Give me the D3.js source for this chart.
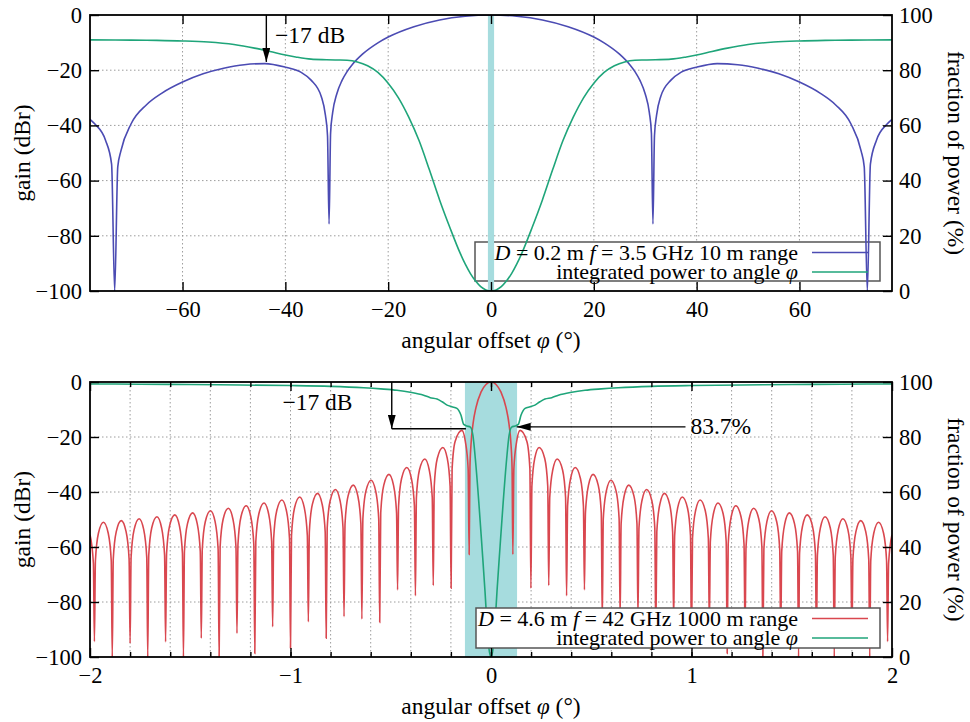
<!DOCTYPE html>
<html>
<head>
<meta charset="utf-8">
<title></title>
<style>
body { margin: 0; background: #fff; }
text { font-family: "Liberation Serif", "Times New Roman", serif; fill: #000; }
.grid line { stroke: #9c9c9c; stroke-width: 1px; stroke-dasharray: 1.5,2.5; }
.frame { fill: none; stroke: #000; stroke-width: 1.8px; }
.axis .domain { display: none; }
.axis line { stroke: #000; stroke-width: 1.4px; }
.axis text { font-size: 22.5px; font-family: "Liberation Serif", "Times New Roman", serif; }
path.curve { fill: none; stroke-width: 1.6px; }
.note { stroke: #000; stroke-width: 1.4px; fill: none; }
</style>
</head>
<body>
<script src="https://cdn.jsdelivr.net/npm/d3@7/dist/d3.min.js"></script>
<script>

// gain (dBr) of the 0.2 m dish vs angular offset (deg) for phi >= 0
var wideGain = [
  [0, 0], [5, -0.45], [10, -1.8], [15, -4.25], [20, -8], [22, -10.1], [25, -14.2],
  [27, -18], [28, -20.5], [29, -23.8], [30, -28.6], [30.8, -35.4], [31.2, -42.7],
  [31.5, -75.7], [31.8, -43.7], [32.2, -36.4], [33, -29.6], [35, -23.6], [37, -20.7],
  [40, -18.9], [44, -17.6], [48, -18], [52, -19.3], [56, -21.3], [60, -24.3],
  [64, -28.3], [67, -32.5], [70, -39.4], [72, -49.3], [72.6, -55], [73.2, -100],
  [73.8, -54], [75, -45.3], [77, -39.6], [78, -37.8]
];

// integrated power (%) out to angle phi, 0.2 m dish
var widePower = [
  [0, 0], [1, 0.4], [2, 1.6], [3, 3.6], [4, 6.3], [5, 9.7], [6, 13.7], [8, 23],
  [10, 33], [12, 44], [14, 54.5], [16, 63], [18, 70], [20, 75.3], [22, 79.2],
  [24, 81.6], [26, 83], [28, 83.6], [30, 83.7], [32, 83.8], [35, 84], [38, 84.8],
  [40, 85.5], [43, 86.8], [46, 88], [50, 89.3], [55, 90.2], [60, 90.6], [65, 90.8],
  [70, 90.9], [78, 91]
];

// gain (dBr) of the 4.6 m dish, phi >= 0 (nulls, lobe flanks and lobe tops)
var narrowGain = [
  [0, 0], [0.025, -0.9], [0.05, -3.7], [0.075, -9.3], [0.09, -15.4], [0.1, -23], [0.105, -31], [0.109, -62.7],
  [0.114, -31.6], [0.128, -21.6], [0.145, -17.6], [0.179, -21.6], [0.194, -31.6], [0.199, -75],
  [0.204, -37.8], [0.218, -27.8], [0.240, -23.8], [0.268, -27.8], [0.283, -37.8], [0.288, -74],
  [0.293, -42], [0.308, -32], [0.330, -28], [0.357, -32], [0.372, -42], [0.377, -77.7],
  [0.382, -45.1], [0.397, -35.1], [0.420, -31.1], [0.446, -35.1], [0.461, -45.1], [0.466, -75.6],
  [0.471, -47.6], [0.486, -37.6], [0.509, -33.6], [0.535, -37.6], [0.550, -47.6], [0.555, -87.4],
  [0.560, -49.7], [0.575, -39.7], [0.598, -35.7], [0.624, -39.7], [0.639, -49.7], [0.644, -86.2],
  [0.649, -51.5], [0.664, -41.5], [0.687, -37.5], [0.713, -41.5], [0.728, -51.5], [0.733, -85.3],
  [0.738, -53.1], [0.753, -43.1], [0.776, -39.1], [0.802, -43.1], [0.817, -53.1], [0.822, -93.2],
  [0.827, -54.5], [0.842, -44.5], [0.865, -40.5], [0.891, -44.5], [0.906, -54.5], [0.911, -87.2],
  [0.916, -55.8], [0.931, -45.8], [0.954, -41.8], [0.980, -45.8], [0.995, -55.8], [1.000, -96.8],
  [1.005, -56.9], [1.020, -46.9], [1.043, -42.9], [1.069, -46.9], [1.084, -56.9], [1.089, -89],
  [1.094, -58], [1.109, -48], [1.132, -44], [1.158, -48], [1.173, -58], [1.178, -98.7],
  [1.183, -59], [1.198, -49], [1.221, -45], [1.247, -49], [1.262, -59], [1.267, -91.4],
  [1.272, -59.9], [1.287, -49.9], [1.310, -45.9], [1.336, -49.9], [1.351, -59.9], [1.356, -100],
  [1.361, -60.8], [1.376, -50.8], [1.399, -46.8], [1.425, -50.8], [1.440, -60.8], [1.445, -93.2],
  [1.450, -61.6], [1.465, -51.6], [1.488, -47.6], [1.514, -51.6], [1.529, -61.6], [1.534, -100],
  [1.539, -62.3], [1.554, -52.3], [1.577, -48.3], [1.603, -52.3], [1.618, -62.3], [1.623, -94.5],
  [1.628, -63], [1.643, -53], [1.666, -49], [1.692, -53], [1.707, -63], [1.712, -100],
  [1.717, -63.7], [1.732, -53.7], [1.755, -49.7], [1.780, -53.7], [1.795, -63.7], [1.800, -95],
  [1.805, -64.4], [1.820, -54.4], [1.844, -50.4], [1.869, -54.4], [1.884, -64.4], [1.889, -100],
  [1.894, -65], [1.909, -55], [1.933, -51], [1.958, -55], [1.973, -65], [1.978, -94.4],
  [1.983, -66], [2.0, -55.5]
];

// integrated power (%) out to angle phi, 4.6 m dish
var narrowPower = [
  [0, 0], [0.01, 3], [0.02, 12], [0.03, 24], [0.045, 40], [0.061, 56.5], [0.078, 72],
  [0.09, 80.5], [0.103, 83.6], [0.12, 84], [0.136, 84.6], [0.15, 88], [0.17, 90.4],
  [0.195, 91], [0.219, 91.6], [0.244, 92.8], [0.269, 93.8], [0.303, 94.3], [0.336, 95.2],
  [0.403, 96.3], [0.469, 97], [0.55, 97.5], [0.635, 97.9], [0.8, 98.4], [1.0, 98.7],
  [1.25, 98.9], [1.5, 99.1], [1.75, 99.2], [2.0, 99.3]
];

var dbTicks = [0, -20, -40, -60, -80, -100];
var pctTicks = [0, 20, 40, 60, 80, 100];
var wideTicks = [-60, -40, -20, 0, 20, 40, 60];
var narrowTicks = [-2, -1, 0, 1, 2];
var narrowGrid = [-1.8, -1.6, -1.4, -1.2, -1, -0.8, -0.6, -0.4, -0.2, 0,
                  0.2, 0.4, 0.6, 0.8, 1, 1.2, 1.4, 1.6, 1.8];

var wideBand = [-0.6, 0.6];
var narrowBand = [-0.13, 0.13];

var width = 970,
    height = 722;

var svg = d3.select("body").append("svg")
    .attr("width", width)
    .attr("height", height);

var defs = svg.append("defs");
defs.append("marker")
    .attr("id", "head")
    .attr("viewBox", "0 0 14 8")
    .attr("markerWidth", 14)
    .attr("markerHeight", 8)
    .attr("refX", 14)
    .attr("refY", 4)
    .attr("orient", "auto")
    .attr("markerUnits", "userSpaceOnUse")
  .append("path")
    .attr("d", "M0,0L14,4L0,8Z")
    .attr("fill", "#000");

// curves are drawn for phi >= 0 in the arrays, the pattern is symmetric
function mirror(half) {
  var neg = half.filter(function(d) { return d[0] > 0; })
      .map(function(d) { return [-d[0], d[1]]; })
      .reverse();
  return neg.concat(half);
}

var panels = [
  {
    id: "wide", top: 15, bottom: 291, domain: [-78, 78],
    ticks: wideTicks, grid: wideTicks, minor: [],
    band: wideBand, gain: wideGain, power: widePower,
    colour: "#4b4bb3", keyUnder: true,
    key: [["D", " = 0.2 m ", "f", " = 3.5 GHz 10 m range"]],
    keyBox: [475, 242, 880, 281],
    notes: function(g, x, y, y2) {
      g.append("line").attr("class", "note")
          .attr("x1", x(-43.7)).attr("y1", y(0))
          .attr("x2", x(-43.7)).attr("y2", y(-17))
          .attr("marker-end", "url(#head)");
      g.append("text").attr("x", x(-42)).attr("y", y(-10))
          .style("font-size", "23.5px").text("\u221217 dB");
    }
  },
  {
    id: "narrow", top: 382, bottom: 657, domain: [-2, 2],
    ticks: narrowTicks, grid: narrowGrid, minor: narrowGrid,
    band: narrowBand, gain: narrowGain, power: narrowPower,
    colour: "#d9474f", keyUnder: false,
    key: [["D", " = 4.6 m ", "f", " = 42 GHz 1000 m range"]],
    keyBox: [476, 608, 880, 648],
    notes: function(g, x, y, y2) {
      g.append("line").attr("class", "note")
          .attr("x1", x(-0.495)).attr("y1", y(0))
          .attr("x2", x(-0.495)).attr("y2", y(-17))
          .attr("marker-end", "url(#head)");
      g.append("line").attr("class", "note")
          .attr("x1", x(-0.495)).attr("y1", y(-17))
          .attr("x2", x(-0.125)).attr("y2", y(-17));
      g.append("text").attr("x", x(-1.04)).attr("y", y(-10))
          .style("font-size", "23.5px").text("\u221217 dB");
      g.append("line").attr("class", "note")
          .attr("x1", x(0.97)).attr("y1", y2(83.7))
          .attr("x2", x(0.128)).attr("y2", y2(83.7))
          .attr("marker-end", "url(#head)");
      g.append("text").attr("x", x(0.995)).attr("y", y2(83.7)).attr("dy", "0.3em")
          .style("font-size", "23.5px").text("83.7%");
    }
  }
];

var green = "#1fa57a",
    cyan = "#a6dcde";

panels.forEach(function(p) {
  var x = d3.scaleLinear().domain(p.domain).range([90, 892]);
  var y = d3.scaleLinear().domain([-100, 0]).range([p.bottom, p.top]);
  var y2 = d3.scaleLinear().domain([0, 100]).range([p.bottom, p.top]);

  defs.append("clipPath").attr("id", "clip-" + p.id)
    .append("rect")
      .attr("x", 90).attr("y", p.top)
      .attr("width", 802).attr("height", p.bottom - p.top);

  var g = svg.append("g");

  // dotted grid
  var grid = g.append("g").attr("class", "grid");
  grid.selectAll("line.gx").data(p.grid).enter().append("line")
      .attr("class", "gx")
      .attr("x1", function(d) { return x(d); })
      .attr("x2", function(d) { return x(d); })
      .attr("y1", p.top).attr("y2", p.bottom);
  grid.selectAll("line.gy").data(dbTicks.slice(1, -1)).enter().append("line")
      .attr("class", "gy")
      .attr("x1", 90).attr("x2", 892)
      .attr("y1", function(d) { return y(d); })
      .attr("y2", function(d) { return y(d); });

  var kb = p.keyBox;
  function keyBox() {
    g.append("rect")
        .attr("x", kb[0]).attr("y", kb[1])
        .attr("width", kb[2] - kb[0]).attr("height", kb[3] - kb[1])
        .attr("fill", "#fff").attr("stroke", "#555").attr("stroke-width", 1.5);
  }
  if (p.keyUnder) keyBox();

  g.append("rect")
      .attr("x", x(p.band[0])).attr("y", p.top)
      .attr("width", x(p.band[1]) - x(p.band[0]))
      .attr("height", p.bottom - p.top)
      .attr("fill", cyan);

  var plot = g.append("g").attr("clip-path", "url(#clip-" + p.id + ")");

  var gainLine = d3.line()
      .x(function(d) { return x(d[0]); })
      .y(function(d) { return y(d[1]); })
      .curve(d3.curveMonotoneX);
  var powerLine = d3.line()
      .x(function(d) { return x(d[0]); })
      .y(function(d) { return y2(d[1]); })
      .curve(d3.curveMonotoneX);

  plot.append("path").attr("class", "curve")
      .attr("d", gainLine(mirror(p.gain)))
      .attr("stroke", p.colour);
  plot.append("path").attr("class", "curve")
      .attr("d", powerLine(mirror(p.power)))
      .attr("stroke", green);

  if (!p.keyUnder) keyBox();

  // key entries
  var rows = [
    { parts: p.key[0], colour: p.colour },
    { parts: ["", "integrated power to angle ", "\u03c6", ""], colour: green, phi: true }
  ];
  var rowY = [kb[1] + 10.5, kb[1] + 30];
  rows.forEach(function(r, i) {
    var t = g.append("text")
        .attr("x", 798).attr("y", rowY[i]).attr("dy", "0.33em")
        .attr("text-anchor", "end")
        .style("font-size", "22px")
        .style("white-space", "pre");
    if (r.phi) {
      t.append("tspan").text(r.parts[1]);
      t.append("tspan").style("font-style", "italic").text(r.parts[2]);
    } else {
      t.append("tspan").style("font-style", "italic").text(r.parts[0]);
      t.append("tspan").text(r.parts[1]);
      t.append("tspan").style("font-style", "italic").text(r.parts[2]);
      t.append("tspan").text(r.parts[3]);
    }
    g.append("line")
        .attr("x1", 812).attr("x2", 868)
        .attr("y1", rowY[i]).attr("y2", rowY[i])
        .attr("stroke", r.colour).attr("stroke-width", 1.6);
  });

  // axes, ticks pointing inwards
  g.append("g").attr("class", "axis")
      .attr("transform", "translate(0," + p.bottom + ")")
      .call(d3.axisBottom(x).tickValues(p.ticks).tickSize(-9).tickPadding(10)
            .tickFormat(d3.format("d")));
  g.append("g").attr("class", "axis")
      .attr("transform", "translate(0," + p.top + ")")
      .call(d3.axisTop(x).tickValues(p.ticks).tickSize(-9).tickFormat(""));
  if (p.minor.length) {
    g.append("g").attr("class", "axis")
        .attr("transform", "translate(0," + p.bottom + ")")
        .call(d3.axisBottom(x).tickValues(p.minor).tickSize(-5).tickFormat(""));
    g.append("g").attr("class", "axis")
        .attr("transform", "translate(0," + p.top + ")")
        .call(d3.axisTop(x).tickValues(p.minor).tickSize(-5).tickFormat(""));
  }
  g.append("g").attr("class", "axis")
      .attr("transform", "translate(90,0)")
      .call(d3.axisLeft(y).tickValues(dbTicks).tickSize(-9).tickPadding(8));
  g.append("g").attr("class", "axis")
      .attr("transform", "translate(892,0)")
      .call(d3.axisRight(y2).tickValues(pctTicks).tickSize(-9).tickPadding(7));

  g.append("rect").attr("class", "frame")
      .attr("x", 90).attr("y", p.top)
      .attr("width", 802).attr("height", p.bottom - p.top);

  // axis titles
  var mid = (p.top + p.bottom) / 2;
  g.append("text")
      .attr("transform", "translate(30," + mid + ") rotate(-90)")
      .attr("text-anchor", "middle")
      .style("font-size", "23.5px")
      .text("gain (dBr)");
  g.append("text")
      .attr("transform", "translate(948," + mid + ") rotate(90)")
      .attr("text-anchor", "middle")
      .style("font-size", "23.5px")
      .text("fraction of power (%)");
  var xt = g.append("text")
      .attr("x", 491).attr("y", p.bottom + 57)
      .attr("text-anchor", "middle")
      .style("font-size", "23.5px")
      .style("white-space", "pre");
  xt.append("tspan").text("angular offset ");
  xt.append("tspan").style("font-style", "italic").text("\u03c6");
  xt.append("tspan").text(" (\u00b0)");

  p.notes(g, x, y, y2);
});

</script>
</body>
</html>
